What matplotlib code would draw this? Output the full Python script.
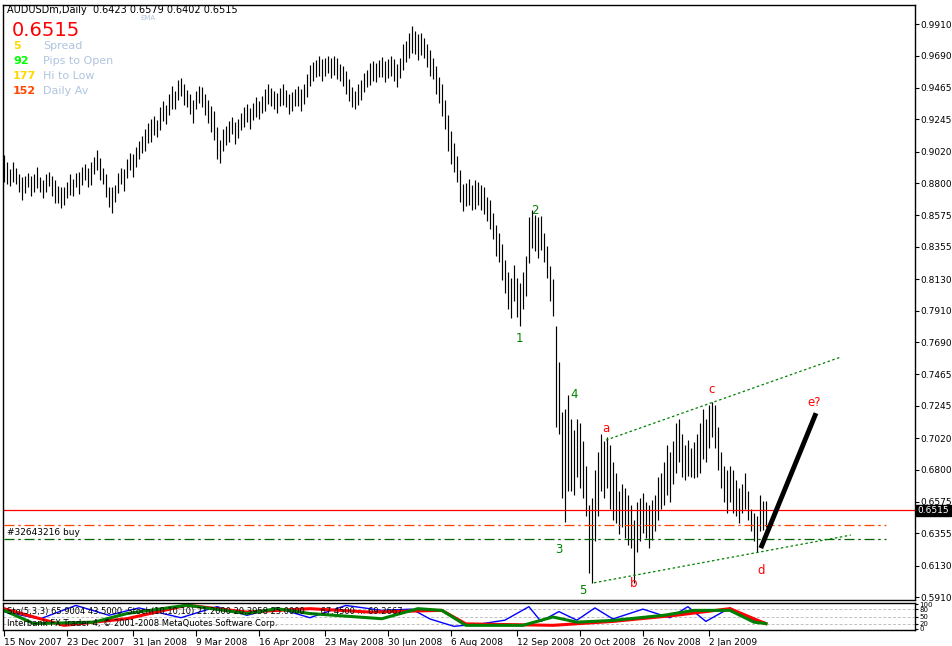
import numpy as np
import matplotlib.pyplot as plt

# AUDUSDm daily bars, mid price (x1e4) and bar range (pips)
mid = [8900, 8870, 8840, 8880, 8850, 8800, 8760, 8790, 8820, 8780, 8800, 8840, 8790, 8760, 8800, 8830, 8780, 8740, 8720, 8700,
       8710, 8750, 8790, 8770, 8820, 8800, 8850, 8880, 8840, 8870, 8920, 8960, 8900, 8850, 8780, 8700,
       8680, 8730, 8800, 8850, 8820, 8900, 8950, 8920, 8980, 9030, 9070, 9100, 9150, 9170,
       9200, 9180, 9250, 9300, 9280, 9350, 9400, 9380, 9450, 9470,
       9420, 9390, 9350, 9300, 9380, 9420, 9400, 9350, 9300, 9250, 9200,
       9080, 9020, 9100, 9130, 9160, 9200, 9150, 9180, 9230,
       9260, 9290, 9250, 9300, 9330, 9310, 9350, 9380, 9420, 9400,
       9380, 9360, 9400, 9420, 9390, 9350, 9370, 9400, 9410, 9380,
       9420, 9480, 9550, 9580, 9600, 9620, 9590, 9610, 9630, 9600,
       9620, 9600, 9570, 9550, 9500, 9450, 9400, 9380, 9420, 9450,
       9500, 9530, 9560, 9580, 9570, 9600, 9610, 9580, 9600, 9620,
       9590, 9550, 9600, 9680, 9720, 9760, 9800, 9780, 9750, 9770,
       9740, 9690, 9640, 9600, 9520, 9450, 9380, 9280, 9150, 9050,
       8980, 8900, 8780, 8700, 8720, 8740, 8700, 8720, 8730, 8700,
       8680, 8620, 8580, 8500, 8400, 8350, 8250, 8150, 8050, 8000,
       8100, 8000, 7950, 8050, 8150, 8400, 8480, 8450, 8420, 8450,
       8350, 8250, 8100, 8000, 7450, 7300, 6900, 6830, 6985, 6900,
       6850, 6950, 6900, 6800, 6650, 6315, 6305, 6550, 6700, 6850,
       6800, 6850, 6750, 6650, 6600, 6500, 6550, 6500, 6450, 6400,
       6230, 6400, 6450, 6500, 6450, 6400, 6450, 6500, 6600, 6650,
       6700, 6800, 6750, 6850, 6950, 7000, 6900, 6850, 6880, 6850,
       6870, 6900, 6950, 7050, 7000, 7100, 7150, 7100, 6950, 6800,
       6700, 6650, 6700, 6650, 6600, 6550, 6600, 6650, 6550, 6450,
       6400, 6350, 6500, 6480, 6490]
rng = [190, 150, 120, 140, 110, 130, 160, 120, 100, 140, 120, 150, 110, 130, 120, 100, 140, 160, 120, 150,
       130, 110, 140, 120, 100, 150, 120, 110, 130, 160, 120, 140, 150, 110, 160, 140,
       180, 120, 140, 110, 150, 130, 120, 160, 140, 130, 120, 150, 140, 160,
       130, 120, 160, 140, 130, 150, 160, 120, 140, 130,
       150, 120, 140, 160, 130, 120, 140, 150, 160, 180, 200,
       220, 160, 150, 130, 140, 120, 150, 130, 120,
       140, 130, 150, 120, 140, 130, 120, 150, 140, 130,
       120, 140, 130, 150, 120, 140, 130, 120, 140, 150,
       140, 160, 150, 130, 120, 140, 150, 130, 120, 140,
       130, 150, 120, 140, 160, 150, 140, 130, 150, 140,
       130, 120, 150, 140, 130, 120, 140, 150, 130, 140,
       150, 160, 140, 180, 150, 170, 190, 160, 180, 150,
       140, 160, 180, 150, 200, 180, 220, 200, 250, 230,
       200, 180, 220, 190, 160, 180, 170, 200, 160, 180,
       190, 170, 200, 180, 220, 200, 250, 230, 260, 280,
       250, 270, 300, 260, 280, 320, 260, 250, 280, 240,
       200, 220, 240, 260, 700, 500, 600, 790, 670, 500,
       450, 400, 450, 400, 350, 470, 590, 500, 450, 400,
       400, 350, 450, 400, 350, 300, 300, 350, 350, 300,
       440, 350, 300, 280, 250, 300, 280, 250, 300, 250,
       300, 350, 350, 300, 350, 300, 300, 250, 250, 200,
       250, 300, 350, 350, 300, 300, 250, 300, 300, 250,
       250, 300, 250, 300, 250, 250, 200, 250, 200, 150,
       200, 250, 250, 200, 177]

# wave labels (bar, price, text, colour)
wave_labels = [(172, 0.7718, '1', 'green'), (177, 0.8612, '2', 'green'), (185, 0.6239, '3', 'green'),
               (190, 0.7327, '4', 'green'), (193, 0.5959, '5', 'green'),
               (200.5, 0.7090, 'a', 'red'), (210, 0.6002, 'b', 'red'), (236, 0.7362, 'c', 'red'),
               (252.5, 0.6099, 'd', 'red'), (270, 0.7272, 'e?', 'red')]
upper_ch = ([200.7, 279], [0.7006, 0.7586])
lower_ch = ([196.7, 282.3], [0.6010, 0.6343])
arrow_line = ([252.3, 270.7], [0.6252, 0.7194])

price_ticks = [0.9910, 0.9690, 0.9465, 0.9245, 0.9020, 0.8800, 0.8575, 0.8355, 0.8130, 0.7910,
               0.7690, 0.7465, 0.7245, 0.7020, 0.6800, 0.6575, 0.6355, 0.6130, 0.5910]
date_bars = [0, 21, 43, 64, 85, 107, 128, 149, 171, 192, 213, 235]
date_labels = ['15 Nov 2007', '23 Dec 2007', '31 Jan 2008', '9 Mar 2008', '16 Apr 2008', '23 May 2008',
               '30 Jun 2008', '6 Aug 2008', '12 Sep 2008', '20 Oct 2008', '26 Nov 2008', '2 Jan 2009']

# oscillator lines (bar, value)
blue_x = [0, 12, 24, 35, 45, 59, 71, 81, 91, 102, 114, 126, 136, 142, 150, 159, 167, 175, 179, 185,
          191, 197, 203, 213, 222, 228, 234, 242, 250, 254]
blue_y = [70, 40, 95, 55, 85, 45, 90, 55, 85, 45, 95, 75, 80, 40, 10, 20, 35, 90, 30, 70,
          35, 85, 40, 80, 45, 90, 30, 85, 35, 25]
red_x = [0, 20, 41, 61, 81, 102, 122, 146, 154, 183, 203, 224, 242, 250, 254]
red_y = [82, 14, 41, 96, 68, 82, 68, 75, 20, 14, 30, 55, 82, 41, 21]
green_x = [0, 10, 30, 41, 61, 81, 91, 102, 126, 138, 146, 154, 173, 183, 191, 203, 220, 230, 242, 250, 254]
green_y = [75, 21, 27, 62, 96, 62, 82, 62, 41, 82, 75, 14, 14, 48, 27, 34, 55, 75, 75, 27, 21]

W, H = 953, 646
fig = plt.figure(figsize=(W / 100, H / 100), dpi=100)
xl = (-0.3, (915 - 3) / 3 - 0.3)

ax = fig.add_axes([3 / W, 1 - 600 / H, 912 / W, 595 / H])
ax.set_xlim(xl)
ax.set_ylim(0.5890, 1.0043)
x = np.arange(len(mid))
m = np.array(mid) / 1e4
r = np.array(rng) / 1e4
ax.vlines(x, m - r / 2, m + r / 2, color='black', lw=0.85)

ax.axhline(0.6515, color='red', lw=0.9)
ax.plot([0, 294], [0.6413, 0.6413], color='orangered', lw=0.9, dashes=(8, 3, 2, 3))
ax.plot([0, 294], [0.6315, 0.6315], color='darkgreen', lw=0.9, dashes=(8, 3, 2, 3))
ax.text(1, 0.6330, '#32643216 buy', fontsize=6.5, va='bottom')
ax.plot(*upper_ch, color='green', lw=0.9, ls=(0, (2, 2)))
ax.plot(*lower_ch, color='green', lw=0.9, ls=(0, (2, 2)))
ax.plot(*arrow_line, color='black', lw=3.5, solid_capstyle='butt')
for bx, py, s, c in wave_labels:
    ax.text(bx, py, s, color=c, fontsize=8.5, ha='center', va='center')

ax.yaxis.tick_right()
ax.set_yticks(price_ticks)
ax.set_yticklabels(['%.4f' % v for v in price_ticks], fontsize=6.5)
ax.tick_params(axis='y', length=3, pad=1)
ax.set_xticks([])
ax.annotate('0.6515', xy=(1, 0.6515), xycoords=('axes fraction', 'data'), xytext=(2, 0),
            textcoords='offset points', fontsize=6.5, color='white', va='center',
            bbox=dict(boxstyle='square,pad=0.15', fc='black', ec='black'))

# header info
fig.text(7 / W, 1 - 10 / H, 'AUDUSDm,Daily  0.6423 0.6579 0.6402 0.6515', fontsize=7, va='center')
fig.text(140 / W, 1 - 18 / H, 'EMA', fontsize=5, color='lightsteelblue', va='center')
fig.text(12 / W, 1 - 31 / H, '0.6515', fontsize=14, color='red', va='center')
rows = [('5', 'gold', 'Spread'), ('92', 'lime', 'Pips to Open'), ('177', 'gold', 'Hi to Low'),
        ('152', 'orangered', 'Daily Av')]
for i, (v, c, lab) in enumerate(rows):
    yy = 1 - (46 + 15 * i) / H
    fig.text(13 / W, yy, v, fontsize=8, color=c, fontweight='bold', va='center')
    fig.text(43 / W, yy, lab, fontsize=8, color='lightsteelblue', va='center')

# oscillator panel
ax2 = fig.add_axes([3 / W, 1 - 630 / H, 912 / W, 27 / H])
ax2.set_xlim(xl)
ax2.set_ylim(-5, 105)
for lvl in (80, 50, 20):
    ax2.axhline(lvl, color='silver', lw=0.7, ls=(0, (3, 2)))
ax2.plot(blue_x, blue_y, color='blue', lw=1.0)
ax2.plot(red_x, red_y, color='red', lw=2.2)
ax2.plot(green_x, green_y, color='green', lw=2.2)
ax2.text(1, 70, 'Sto(5,3,3) 65.9004 43.5000  Stoch(10,10,10) 21.2000 20.3958 25.0000  ... 67.4500 ... 69.2667',
         fontsize=6, va='center')
ax2.text(1, 22, 'Interbank FX Trader 4, \u00a9 2001-2008 MetaQuotes Software Corp.', fontsize=6, va='center')
ax2.yaxis.tick_right()
ax2.set_yticks([100, 80, 50, 20, 0])
ax2.set_yticklabels(['100', '80', '50', '20', '0'], fontsize=5)
ax2.tick_params(axis='y', length=2, pad=1)
ax2.set_xticks(date_bars)
ax2.set_xticklabels(date_labels, fontsize=6.5, ha='left')
ax2.tick_params(axis='x', length=4, pad=2)
for s in list(ax.spines.values()) + list(ax2.spines.values()):
    s.set_linewidth(1.0)

fig.savefig('out.png', dpi=100)
